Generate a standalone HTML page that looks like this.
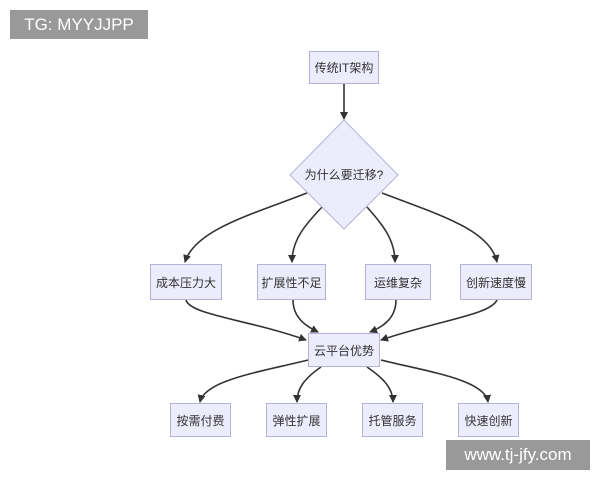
<!DOCTYPE html>
<html><head><meta charset="utf-8"><style>
body{margin:0;width:600px;height:480px;background:#fff;position:relative;overflow:hidden;font-family:"Liberation Sans","Noto Sans CJK SC",sans-serif}
.b{position:absolute;background:#ececfd;border:1px solid #b3b3d9;box-sizing:border-box;display:flex;align-items:center;justify-content:center;font-size:12px;color:#333}
.wm{position:absolute;background:#999;color:#fff;font-size:17px;display:flex;align-items:center;justify-content:center}
</style></head><body>
<svg width="600" height="480" style="position:absolute;left:0;top:0">
<defs><marker id="a" markerWidth="8" markerHeight="8" refX="7" refY="4" orient="auto" markerUnits="userSpaceOnUse"><path d="M0,0L8,4L0,8z" fill="#333"/></marker></defs>
<g fill="none" stroke="#333" stroke-width="1.6" marker-end="url(#a)">
<path d="M344,84V119"/>
<path d="M307,193C250,215 195,230 185,262"/>
<path d="M322,207C305,225 292,240 292,262"/>
<path d="M367,207C383,225 395,240 395,262"/>
<path d="M382,193C440,215 490,230 497,262"/>
<path d="M186,300C190,315 250,320 306,340"/>
<path d="M293,300C293,320 310,328 318,332"/>
<path d="M396,300C396,320 380,328 370,332"/>
<path d="M497,300C490,315 440,320 381,340"/>
<path d="M308,360C260,372 205,380 200,402"/>
<path d="M321,367C305,378 297,388 297,402"/>
<path d="M367,367C383,378 393,388 393,402"/>
<path d="M381,360C430,372 485,380 488,402"/>
</g>
<polygon points="344,120 398,175 344,229 290,175" fill="#ececfd" stroke="#b3b3d9"/>
<text x="344" y="179" text-anchor="middle" font-size="12" fill="#333" font-family="Liberation Sans,Noto Sans CJK SC,sans-serif">为什么要迁移?</text>
</svg>
<div class="b" style="left:309px;top:51px;width:70px;height:33px">传统IT架构</div>
<div class="b" style="left:150px;top:264px;width:72px;height:36px">成本压力大</div>
<div class="b" style="left:257px;top:264px;width:69px;height:36px">扩展性不足</div>
<div class="b" style="left:365px;top:264px;width:66px;height:36px">运维复杂</div>
<div class="b" style="left:460px;top:264px;width:72px;height:36px">创新速度慢</div>
<div class="b" style="left:308px;top:333px;width:72px;height:34px">云平台优势</div>
<div class="b" style="left:170px;top:403px;width:61px;height:34px">按需付费</div>
<div class="b" style="left:266px;top:403px;width:61px;height:34px">弹性扩展</div>
<div class="b" style="left:362px;top:403px;width:61px;height:34px">托管服务</div>
<div class="b" style="left:458px;top:403px;width:61px;height:34px">快速创新</div>
<div class="wm" style="left:10px;top:10px;width:138px;height:29px">TG: MYYJJPP</div>
<div class="wm" style="left:446px;top:440px;width:144px;height:30px">www.tj-jfy.com</div>
</body></html>
